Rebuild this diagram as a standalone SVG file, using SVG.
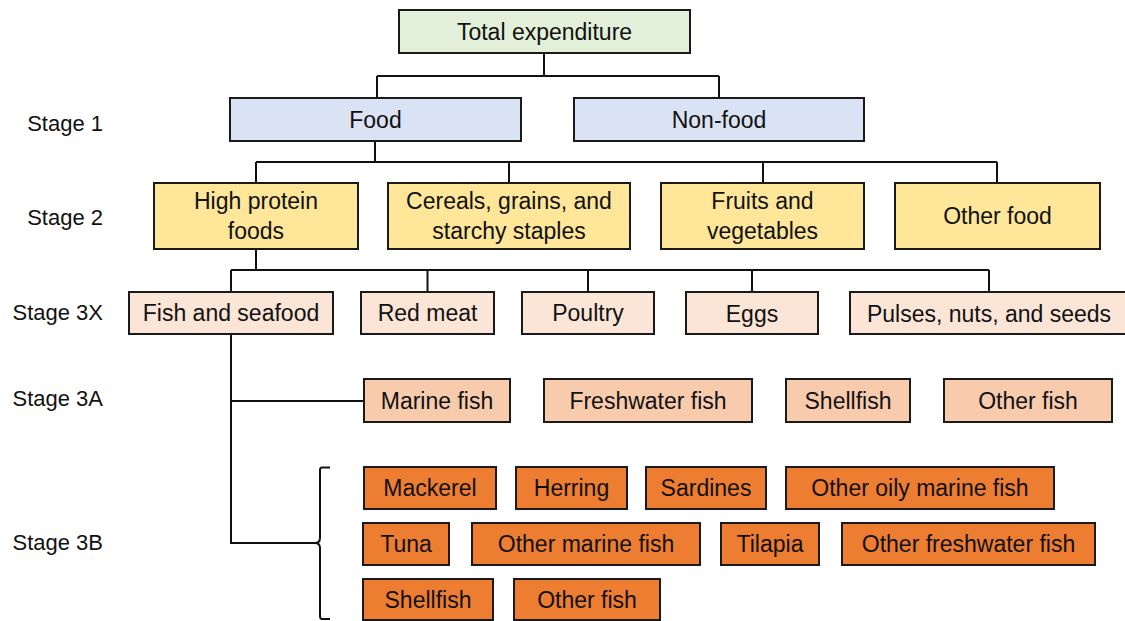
<svg xmlns="http://www.w3.org/2000/svg" width="1125" height="621" viewBox="0 0 1125 621">
<style>
rect{stroke:#1a1a1a;stroke-width:2}
text{font-family:"Liberation Sans",Arial,sans-serif;font-size:23px;fill:#111;text-anchor:middle;dominant-baseline:central}
.lbl{text-anchor:end;font-size:22px}
.g0{fill:#E2F0D9}.g1{fill:#DAE3F3}.g2{fill:#FFE699}.g3{fill:#FBE5D6}.g4{fill:#F8CBAD}.g5{fill:#ED7D31}
#connectors path{fill:none;stroke:#111;stroke-width:2}
</style>
<rect x="0" y="0" width="1125" height="621" style="fill:#fff;stroke:none"/>
<g id="labels">
<text class="lbl" x="103" y="123">Stage 1</text>
<text class="lbl" x="103" y="217">Stage 2</text>
<text class="lbl" x="103" y="312">Stage 3X</text>
<text class="lbl" x="103" y="398">Stage 3A</text>
<text class="lbl" x="103" y="542">Stage 3B</text>
</g>
<g id="connectors">
<path d="M544,53V76M377,76H719M377,76V98M719,76V98"/>
<path d="M375,141V162M256,162H997M256,162V183M509,162V183M763,162V183M997,162V183"/>
<path d="M256,249V270M231,270H989M231,270V292M427.5,270V292M588,270V292M752,270V292M989,270V292"/>
<path d="M231,334V543H316M231,401H364"/>
<path d="M330,467.5H322Q320,467.5 320,470V538Q320,543 315,543Q320,543 320,548V616Q320,619 322,619H330"/>
</g>
<g id="n-total"><rect class="g0" x="399" y="10" width="291" height="43"/><text x="544.5" y="31.5">Total expenditure</text></g>
<g id="n-food"><rect class="g1" x="230" y="98" width="291" height="43"/><text x="375.5" y="119.5">Food</text></g>
<g id="n-nonfood"><rect class="g1" x="574" y="98" width="290" height="43"/><text x="719" y="119.5">Non-food</text></g>
<g id="n-hp"><rect class="g2" x="154" y="183" width="204" height="66"/><text x="256" y="201">High protein</text><text x="256" y="231">foods</text></g>
<g id="n-cereals"><rect class="g2" x="388" y="183" width="242" height="66"/><text x="509" y="201">Cereals, grains, and</text><text x="509" y="231">starchy staples</text></g>
<g id="n-fruits"><rect class="g2" x="661" y="183" width="203" height="66"/><text x="762.5" y="201">Fruits and</text><text x="762.5" y="231">vegetables</text></g>
<g id="n-otherfood"><rect class="g2" x="895" y="183" width="205" height="66"/><text x="997.5" y="216">Other food</text></g>
<g id="n-fish"><rect class="g3" x="129" y="292" width="204" height="42"/><text x="231" y="313">Fish and seafood</text></g>
<g id="n-redmeat"><rect class="g3" x="361" y="292" width="133" height="42"/><text x="427.5" y="313">Red meat</text></g>
<g id="n-poultry"><rect class="g3" x="522" y="292" width="132" height="42"/><text x="588" y="313">Poultry</text></g>
<g id="n-eggs"><rect class="g3" x="686" y="292" width="132" height="42"/><text x="752" y="314">Eggs</text></g>
<g id="n-pulses"><rect class="g3" x="850" y="292" width="278" height="42"/><text x="989" y="314">Pulses, nuts, and seeds</text></g>
<g id="n-marine"><rect class="g4" x="364" y="379" width="146" height="43"/><text x="437" y="400.5">Marine fish</text></g>
<g id="n-fresh"><rect class="g4" x="544" y="379" width="208" height="43"/><text x="648" y="400.5">Freshwater fish</text></g>
<g id="n-shell3a"><rect class="g4" x="786" y="379" width="124" height="43"/><text x="848" y="400.5">Shellfish</text></g>
<g id="n-other3a"><rect class="g4" x="944" y="379" width="168" height="43"/><text x="1028" y="400.5">Other fish</text></g>
<g id="n-mackerel"><rect class="g5" x="364" y="467" width="132" height="42"/><text x="430" y="488">Mackerel</text></g>
<g id="n-herring"><rect class="g5" x="516" y="467" width="111" height="42"/><text x="571.5" y="488">Herring</text></g>
<g id="n-sardines"><rect class="g5" x="646" y="467" width="120" height="42"/><text x="706" y="488">Sardines</text></g>
<g id="n-oily"><rect class="g5" x="786" y="467" width="268" height="42"/><text x="920" y="488">Other oily marine fish</text></g>
<g id="n-tuna"><rect class="g5" x="363" y="523" width="86" height="42"/><text x="406" y="544">Tuna</text></g>
<g id="n-othermarine"><rect class="g5" x="472" y="523" width="228" height="42"/><text x="586" y="544">Other marine fish</text></g>
<g id="n-tilapia"><rect class="g5" x="721" y="523" width="98" height="42"/><text x="770" y="544">Tilapia</text></g>
<g id="n-otherfresh"><rect class="g5" x="842" y="523" width="253" height="42"/><text x="968.5" y="544">Other freshwater fish</text></g>
<g id="n-shell3b"><rect class="g5" x="363" y="579" width="130" height="41"/><text x="428" y="600">Shellfish</text></g>
<g id="n-other3b"><rect class="g5" x="514" y="579" width="146" height="41"/><text x="587" y="600">Other fish</text></g>
</svg>
